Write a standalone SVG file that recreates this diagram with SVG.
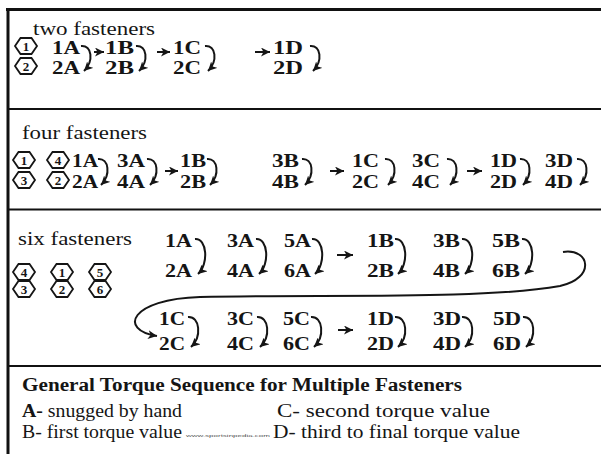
<svg xmlns="http://www.w3.org/2000/svg" width="601" height="454" viewBox="0 0 601 454">
<style>
.lbl{font-size:18px;fill:#151515}
.pr{font-size:18px;font-weight:bold;fill:#151515}
.hx{fill:#fff;stroke:#151515;stroke-width:1.8}
.hn{font-size:13px;font-weight:bold;text-anchor:middle;fill:#151515}
.cv{fill:none;stroke:#151515;stroke-width:2;marker-end:url(#ah)}
.fr{stroke:#111;fill:none}
</style>
<defs>
<marker id="ah" markerUnits="userSpaceOnUse" markerWidth="10" markerHeight="9" refX="9" refY="4.5" orient="auto">
<path d="M0,0 L9,4.5 L0,9 L2.5,4.5 z" fill="#151515"/>
</marker>
<polygon id="hex" points="-11,0 -5.5,-8 5.5,-8 11,0 5.5,8 -5.5,8"/>
</defs>
<rect width="601" height="454" fill="#fff"/>
<g id="frame">
<line class="fr" x1="6" y1="9.5" x2="601" y2="9.5" stroke-width="3"/>
<line class="fr" x1="8" y1="8" x2="8" y2="454" stroke-width="3"/>
<line class="fr" x1="8" y1="109" x2="601" y2="109" stroke-width="2"/>
<line class="fr" x1="8" y1="209.5" x2="601" y2="209.5" stroke-width="2"/>
<line class="fr" x1="8" y1="366" x2="601" y2="366" stroke-width="2"/>
</g>

<!-- Section 1 -->
<g id="s1-title"><text class="lbl" font-family="Liberation Serif" x="33" y="35" textLength="122" lengthAdjust="spacingAndGlyphs">two fasteners</text></g>
<g id="s1-hex1"><use href="#hex" class="hx" x="26" y="46"/><text class="hn" font-family="Liberation Serif" x="26" y="50.5">1</text></g>
<g id="s1-hex2"><use href="#hex" class="hx" x="26" y="66"/><text class="hn" font-family="Liberation Serif" x="26" y="70.5">2</text></g>
<g id="s1-A"><text class="pr" font-family="Liberation Serif" x="52" y="54" textLength="28" lengthAdjust="spacingAndGlyphs">1A</text><text class="pr" font-family="Liberation Serif" x="52" y="74" textLength="28" lengthAdjust="spacingAndGlyphs">2A</text></g>
<g id="s1-B"><text class="pr" font-family="Liberation Serif" x="105" y="54" textLength="29" lengthAdjust="spacingAndGlyphs">1B</text><text class="pr" font-family="Liberation Serif" x="105" y="74" textLength="29" lengthAdjust="spacingAndGlyphs">2B</text></g>
<g id="s1-C"><text class="pr" font-family="Liberation Serif" x="173" y="54" textLength="28" lengthAdjust="spacingAndGlyphs">1C</text><text class="pr" font-family="Liberation Serif" x="173" y="74" textLength="28" lengthAdjust="spacingAndGlyphs">2C</text></g>
<g id="s1-D"><text class="pr" font-family="Liberation Serif" x="273" y="54" textLength="30" lengthAdjust="spacingAndGlyphs">1D</text><text class="pr" font-family="Liberation Serif" x="273" y="74" textLength="30" lengthAdjust="spacingAndGlyphs">2D</text></g>

<!-- Section 2 -->
<g id="s2-title"><text class="lbl" font-family="Liberation Serif" x="22" y="139" textLength="125" lengthAdjust="spacingAndGlyphs">four fasteners</text></g>
<g id="s2-hex1"><use href="#hex" class="hx" x="24" y="160"/><text class="hn" font-family="Liberation Serif" x="24" y="164.5">1</text></g>
<g id="s2-hex3"><use href="#hex" class="hx" x="24" y="180"/><text class="hn" font-family="Liberation Serif" x="24" y="184.5">3</text></g>
<g id="s2-hex4"><use href="#hex" class="hx" x="58" y="160"/><text class="hn" font-family="Liberation Serif" x="58" y="164.5">4</text></g>
<g id="s2-hex2"><use href="#hex" class="hx" x="58" y="180"/><text class="hn" font-family="Liberation Serif" x="58" y="184.5">2</text></g>
<g id="s2-A12"><text class="pr" font-family="Liberation Serif" x="72" y="167" textLength="26" lengthAdjust="spacingAndGlyphs">1A</text><text class="pr" font-family="Liberation Serif" x="72" y="188" textLength="26" lengthAdjust="spacingAndGlyphs">2A</text></g>
<g id="s2-A34"><text class="pr" font-family="Liberation Serif" x="117" y="167" textLength="28" lengthAdjust="spacingAndGlyphs">3A</text><text class="pr" font-family="Liberation Serif" x="117" y="188" textLength="28" lengthAdjust="spacingAndGlyphs">4A</text></g>
<g id="s2-B12"><text class="pr" font-family="Liberation Serif" x="180" y="167" textLength="26" lengthAdjust="spacingAndGlyphs">1B</text><text class="pr" font-family="Liberation Serif" x="180" y="188" textLength="26" lengthAdjust="spacingAndGlyphs">2B</text></g>
<g id="s2-B34"><text class="pr" font-family="Liberation Serif" x="272" y="167" textLength="27" lengthAdjust="spacingAndGlyphs">3B</text><text class="pr" font-family="Liberation Serif" x="272" y="188" textLength="27" lengthAdjust="spacingAndGlyphs">4B</text></g>
<g id="s2-C12"><text class="pr" font-family="Liberation Serif" x="352" y="167" textLength="27" lengthAdjust="spacingAndGlyphs">1C</text><text class="pr" font-family="Liberation Serif" x="352" y="188" textLength="27" lengthAdjust="spacingAndGlyphs">2C</text></g>
<g id="s2-C34"><text class="pr" font-family="Liberation Serif" x="412" y="167" textLength="28" lengthAdjust="spacingAndGlyphs">3C</text><text class="pr" font-family="Liberation Serif" x="412" y="188" textLength="28" lengthAdjust="spacingAndGlyphs">4C</text></g>
<g id="s2-D12"><text class="pr" font-family="Liberation Serif" x="490" y="167" textLength="27" lengthAdjust="spacingAndGlyphs">1D</text><text class="pr" font-family="Liberation Serif" x="490" y="188" textLength="27" lengthAdjust="spacingAndGlyphs">2D</text></g>
<g id="s2-D34"><text class="pr" font-family="Liberation Serif" x="545" y="167" textLength="28" lengthAdjust="spacingAndGlyphs">3D</text><text class="pr" font-family="Liberation Serif" x="545" y="188" textLength="28" lengthAdjust="spacingAndGlyphs">4D</text></g>

<!-- Section 3 -->
<g id="s3-title"><text class="lbl" font-family="Liberation Serif" x="18" y="245" textLength="114" lengthAdjust="spacingAndGlyphs">six fasteners</text></g>
<g id="s3-hex4"><use href="#hex" class="hx" x="24" y="272"/><text class="hn" font-family="Liberation Serif" x="24" y="276.5">4</text></g>
<g id="s3-hex1"><use href="#hex" class="hx" x="62" y="272"/><text class="hn" font-family="Liberation Serif" x="62" y="276.5">1</text></g>
<g id="s3-hex5"><use href="#hex" class="hx" x="100" y="272"/><text class="hn" font-family="Liberation Serif" x="100" y="276.5">5</text></g>
<g id="s3-hex3"><use href="#hex" class="hx" x="24" y="289"/><text class="hn" font-family="Liberation Serif" x="24" y="293.5">3</text></g>
<g id="s3-hex2"><use href="#hex" class="hx" x="62" y="289"/><text class="hn" font-family="Liberation Serif" x="62" y="293.5">2</text></g>
<g id="s3-hex6"><use href="#hex" class="hx" x="100" y="289"/><text class="hn" font-family="Liberation Serif" x="100" y="293.5">6</text></g>
<g id="s3-A12"><text class="pr" font-family="Liberation Serif" x="165" y="247" textLength="27" lengthAdjust="spacingAndGlyphs">1A</text><text class="pr" font-family="Liberation Serif" x="165" y="277" textLength="27" lengthAdjust="spacingAndGlyphs">2A</text></g>
<g id="s3-A34"><text class="pr" font-family="Liberation Serif" x="227" y="247" textLength="27" lengthAdjust="spacingAndGlyphs">3A</text><text class="pr" font-family="Liberation Serif" x="227" y="277" textLength="27" lengthAdjust="spacingAndGlyphs">4A</text></g>
<g id="s3-A56"><text class="pr" font-family="Liberation Serif" x="284" y="247" textLength="27" lengthAdjust="spacingAndGlyphs">5A</text><text class="pr" font-family="Liberation Serif" x="284" y="277" textLength="27" lengthAdjust="spacingAndGlyphs">6A</text></g>
<g id="s3-B12"><text class="pr" font-family="Liberation Serif" x="367" y="247" textLength="27" lengthAdjust="spacingAndGlyphs">1B</text><text class="pr" font-family="Liberation Serif" x="367" y="277" textLength="27" lengthAdjust="spacingAndGlyphs">2B</text></g>
<g id="s3-B34"><text class="pr" font-family="Liberation Serif" x="433" y="247" textLength="27" lengthAdjust="spacingAndGlyphs">3B</text><text class="pr" font-family="Liberation Serif" x="433" y="277" textLength="27" lengthAdjust="spacingAndGlyphs">4B</text></g>
<g id="s3-B56"><text class="pr" font-family="Liberation Serif" x="492" y="247" textLength="28" lengthAdjust="spacingAndGlyphs">5B</text><text class="pr" font-family="Liberation Serif" x="492" y="277" textLength="28" lengthAdjust="spacingAndGlyphs">6B</text></g>
<g id="s3-C12"><text class="pr" font-family="Liberation Serif" x="159" y="325" textLength="26" lengthAdjust="spacingAndGlyphs">1C</text><text class="pr" font-family="Liberation Serif" x="159" y="350" textLength="26" lengthAdjust="spacingAndGlyphs">2C</text></g>
<g id="s3-C34"><text class="pr" font-family="Liberation Serif" x="227" y="325" textLength="27" lengthAdjust="spacingAndGlyphs">3C</text><text class="pr" font-family="Liberation Serif" x="227" y="350" textLength="27" lengthAdjust="spacingAndGlyphs">4C</text></g>
<g id="s3-C56"><text class="pr" font-family="Liberation Serif" x="283" y="325" textLength="27" lengthAdjust="spacingAndGlyphs">5C</text><text class="pr" font-family="Liberation Serif" x="283" y="350" textLength="27" lengthAdjust="spacingAndGlyphs">6C</text></g>
<g id="s3-D12"><text class="pr" font-family="Liberation Serif" x="367" y="325" textLength="27" lengthAdjust="spacingAndGlyphs">1D</text><text class="pr" font-family="Liberation Serif" x="367" y="350" textLength="27" lengthAdjust="spacingAndGlyphs">2D</text></g>
<g id="s3-D34"><text class="pr" font-family="Liberation Serif" x="433" y="325" textLength="28" lengthAdjust="spacingAndGlyphs">3D</text><text class="pr" font-family="Liberation Serif" x="433" y="350" textLength="28" lengthAdjust="spacingAndGlyphs">4D</text></g>
<g id="s3-D56"><text class="pr" font-family="Liberation Serif" x="493" y="325" textLength="28" lengthAdjust="spacingAndGlyphs">5D</text><text class="pr" font-family="Liberation Serif" x="493" y="350" textLength="28" lengthAdjust="spacingAndGlyphs">6D</text></g>

<!-- Legend -->
<g id="legend">
<text class="lbl" font-family="Liberation Serif" x="22" y="391" font-weight="bold" textLength="440" lengthAdjust="spacingAndGlyphs">General Torque Sequence for Multiple Fasteners</text>
<text class="lbl" font-family="Liberation Serif" x="22" y="417" textLength="160" lengthAdjust="spacingAndGlyphs"><tspan font-weight="bold">A-</tspan> snugged by hand</text>
<text class="lbl" font-family="Liberation Serif" x="277" y="417" textLength="213" lengthAdjust="spacingAndGlyphs">C- second torque value</text>
<text class="lbl" font-family="Liberation Serif" x="22" y="438" textLength="160" lengthAdjust="spacingAndGlyphs">B- first torque value</text>
<text x="186" y="437" font-family="Liberation Sans" font-size="4" fill="#555" textLength="84" lengthAdjust="spacingAndGlyphs">www.sportsinpedia.com</text>
<text class="lbl" font-family="Liberation Serif" x="273" y="438" textLength="247" lengthAdjust="spacingAndGlyphs">D- third to final torque value</text>
</g>

<g id="connectors">
<path class="cv" d="M81,46 C92,45 94,61 84,71"/>
<path class="cv" d="M94,52 H104"/>
<path class="cv" d="M136,46 C147,45 149,61 139,71"/>
<path class="cv" d="M157,52 H170"/>
<path class="cv" d="M205,46 C216,45 218,61 208,71"/>
<path class="cv" d="M255,52 H270"/>
<path class="cv" d="M310,46 C321,45 323,61 313,71"/>
<path class="cv" d="M98,159 C109,158 111,175 101,185"/>
<path class="cv" d="M147,159 C158,158 160,175 150,185"/>
<path class="cv" d="M165,171 H178"/>
<path class="cv" d="M207,159 C218,158 220,175 210,185"/>
<path class="cv" d="M302,159 C313,158 315,175 305,185"/>
<path class="cv" d="M330,171 H344"/>
<path class="cv" d="M385,159 C396,158 398,175 388,185"/>
<path class="cv" d="M447,159 C458,158 460,175 450,185"/>
<path class="cv" d="M467,171 H482"/>
<path class="cv" d="M520,159 C531,158 533,175 523,185"/>
<path class="cv" d="M577,159 C588,158 590,175 580,185"/>
<path class="cv" d="M195,239 C207,238 209,264 198,274"/>
<path class="cv" d="M256,239 C268,238 270,264 259,274"/>
<path class="cv" d="M312,239 C324,238 326,264 315,274"/>
<path class="cv" d="M337,255 H353"/>
<path class="cv" d="M395,239 C407,238 409,264 398,274"/>
<path class="cv" d="M462,239 C474,238 476,264 465,274"/>
<path class="cv" d="M522,239 C534,238 536,264 525,274"/>
<path class="cv" d="M563,252 C590,248 596,278 560,286 C480,300 320,294 200,297 C130,299 118,330 157,336"/>
<path class="cv" d="M188,317 C200,316 202,337 191,347"/>
<path class="cv" d="M257,317 C269,316 271,337 260,347"/>
<path class="cv" d="M311,317 C323,316 325,337 314,347"/>
<path class="cv" d="M338,330 H353"/>
<path class="cv" d="M395,317 C407,316 409,337 398,347"/>
<path class="cv" d="M462,317 C474,316 476,337 465,347"/>
<path class="cv" d="M523,317 C535,316 537,337 526,347"/>
</g>
</svg>
